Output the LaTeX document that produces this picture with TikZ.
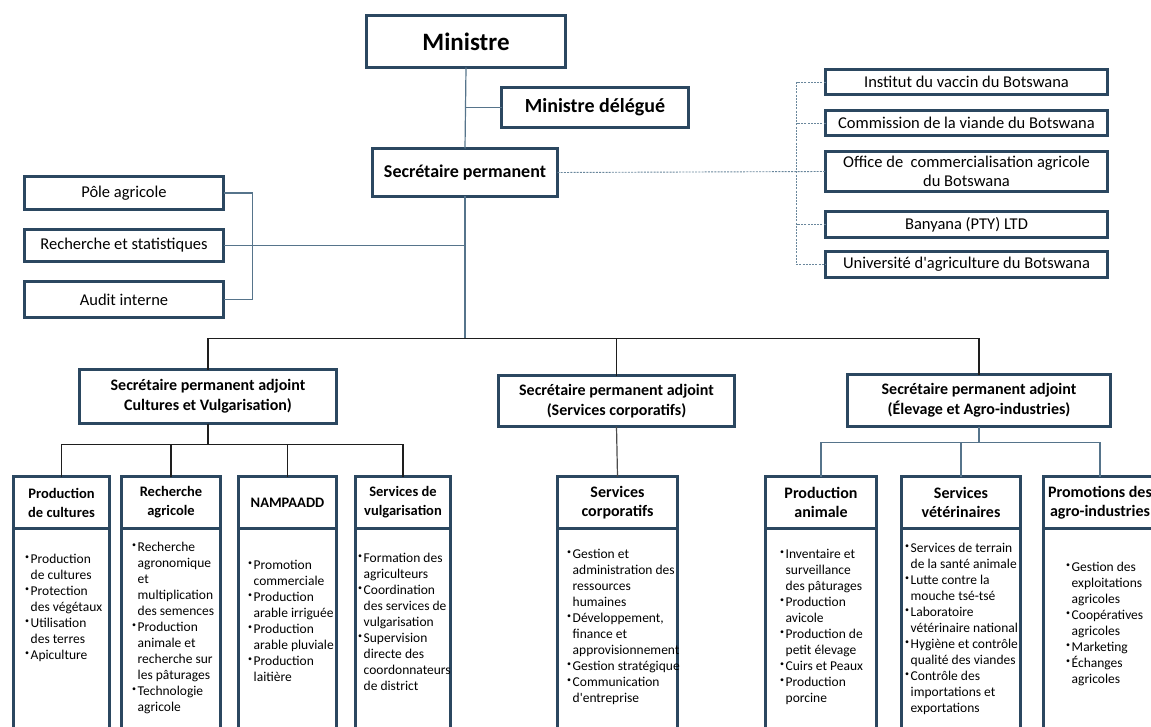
\documentclass[tikz,border=0pt]{standalone}
\usepackage{fontspec}
\setmainfont{Carlito}
\usepackage{tikz}
\usetikzlibrary{positioning}

\definecolor{boxblue}{HTML}{2B4760}
\definecolor{linkblue}{HTML}{56748B}
\definecolor{dashblue}{HTML}{6A879C}
\definecolor{busdark}{HTML}{1E1E1E}

\newcommand{\bul}{\makebox[5.5pt][l]{\raisebox{4pt}{\fontsize{8}{8}\selectfont •}}}
\newcommand{\ind}{\hspace*{5.5pt}}

\begin{document}
\begin{tikzpicture}[x=1pt, y=-1pt,
  box/.style={draw=boxblue, line width=3.2pt, fill=white, inner sep=0pt, outer sep=0pt, align=center},
  sidebox/.style={box, minimum width=199pt, font=\fontsize{16.5}{19}\selectfont},
  parabox/.style={box, minimum width=282pt, font=\fontsize{16.5}{19}\selectfont},
  adjbox/.style={box, font=\bfseries\fontsize{16}{20}\selectfont},
  headbox/.style={box, minimum height=52pt, font=\bfseries\fontsize{16}{19}\selectfont},
  bodybox/.style={box, minimum height=240pt},
  bullets/.style={anchor=north west, align=left, inner sep=0pt, font=\fontsize{13.5}{16}\selectfont},
  link/.style={draw=linkblue, line width=1.2pt},
  bus/.style={draw=busdark, line width=1.3pt},
  dashlink/.style={draw=dashblue, line width=0.9pt, dash pattern=on 2pt off 1.2pt}]
\useasboundingbox (0,0) rectangle (1151,727);
\clip (0,0) rectangle (1151,727);

% top of the chart
\node[box, minimum width=199pt, minimum height=52pt, font=\bfseries\fontsize{25}{28}\selectfont] (ministre) at (466,41.5) {Ministre};
\node[box, minimum width=187pt, minimum height=40pt, font=\bfseries\fontsize{20}{24}\selectfont] (ministredelegue) at (595,107.5) {Ministre délégué};
\node[box, minimum width=185pt, minimum height=48pt, font=\bfseries\fontsize{18}{22}\selectfont] (secretaire) at (465,172.5) {Secrétaire permanent};

% units on the left
\node[sidebox, minimum height=33pt] (pole) at (124,193) {Pôle agricole};
\node[sidebox, minimum height=32pt] (rechstat) at (124,245.5) {Recherche et statistiques};
\node[sidebox, minimum height=36pt] (audit) at (124,299.5) {Audit interne};

% parastatals on the right
\node[parabox, minimum height=25pt] (vaccin) at (966.5,82) {Institut du vaccin du Botswana};
\node[parabox, minimum height=25pt] (viande) at (966.5,123) {Commission de la viande du Botswana};
\node[parabox, minimum height=40pt] (office) at (966.5,171.5) {Office de\ \ commercialisation agricole\\du Botswana};
\node[parabox, minimum height=26pt] (banyana) at (966.5,224.5) {Banyana (PTY) LTD};
\node[parabox, minimum height=26pt] (universite) at (966.5,264.5) {Université d\textquotesingle agriculture du Botswana};

% deputy secretaries
\node[adjbox, minimum width=257pt, minimum height=54pt] (adjcultures) at (208,396.5) {Secrétaire permanent adjoint\\Cultures et Vulgarisation)};
\node[adjbox, minimum width=236pt, minimum height=51pt] (adjservices) at (616.5,401) {Secrétaire permanent adjoint\\(Services corporatifs)};
\node[adjbox, minimum width=263pt, minimum height=52pt] (adjelevage) at (979,400.5) {Secrétaire permanent adjoint\\(Élevage et Agro-industries)};

% departments
\node[headbox, minimum width=96pt, font=\bfseries\fontsize{14.5}{19}\selectfont] (prodcult) at (61.5,502.5) {Production\\de cultures};
\node[headbox, minimum width=99pt, font=\bfseries\fontsize{14.5}{19}\selectfont] (rechagri) at (171,502.5) {Recherche\\agricole};
\node[headbox, minimum width=98pt, font=\bfseries\fontsize{14.5}{19}\selectfont] (nampaadd) at (287.5,502.5) {NAMPAADD};
\node[headbox, minimum width=95pt, font=\bfseries\fontsize{14.5}{19}\selectfont] (vulgarisation) at (403,502.5) {Services de\\vulgarisation};
\node[headbox, minimum width=120pt] (servcorp) at (617.5,502.5) {Services\\corporatifs};
\node[headbox, minimum width=111pt] (prodanim) at (821,502.5) {Production\\animale};
\node[headbox, minimum width=119pt] (veterinaire) at (961,502.5) {Services\\vétérinaires};
\node[headbox, minimum width=113pt] (agroind) at (1100,502.5) {Promotions des\\agro-industries};

\foreach \n/\w in {prodcult/96,rechagri/99,nampaadd/98,vulgarisation/95,servcorp/120,prodanim/111,veterinaire/119,agroind/113}
  \node[bodybox, minimum width=\w, below=0pt of \n] (\n body) {};

% bullet lists
\node[bullets] (prodcultlist) at (25,554) {\bul Production\\\ind de cultures\\\bul Protection\\\ind des végétaux\\\bul Utilisation\\\ind des terres\\\bul Apiculture};
\node[bullets] (rechagrilist) at (132,542) {\bul Recherche\\\ind agronomique\\\ind et\\\ind multiplication\\\ind des semences\\\bul Production\\\ind animale et\\\ind recherche sur\\\ind les pâturages\\\bul Technologie\\\ind agricole};
\node[bullets] (nampaaddlist) at (248,560) {\bul Promotion\\\ind commerciale\\\bul Production\\\ind arable irriguée\\\bul Production\\\ind arable pluviale\\\bul Production\\\ind laitière};
\node[bullets] (vulgarisationlist) at (358,553) {\bul Formation des\\\ind agriculteurs\\\bul Coordination\\\ind des services de\\\ind vulgarisation\\\bul Supervision\\\ind directe des\\\ind coordonnateurs\\\ind de district};
\node[bullets] (servcorplist) at (567,549) {\bul Gestion et\\\ind administration des\\\ind ressources\\\ind humaines\\\bul Développement,\\\ind finance et\\\ind approvisionnement\\\bul Gestion stratégique\\\bul Communication\\\ind d\textquotesingle entreprise};
\node[bullets] (prodanimlist) at (780,549) {\bul Inventaire et\\\ind surveillance\\\ind des pâturages\\\bul Production\\\ind avicole\\\bul Production de\\\ind petit élevage\\\bul Cuirs et Peaux\\\bul Production\\\ind porcine};
\node[bullets] (veterinairelist) at (905,543) {\bul Services de terrain\\\ind de la santé animale\\\bul Lutte contre la\\\ind mouche tsé-tsé\\\bul Laboratoire\\\ind vétérinaire national\\\bul Hygiène et contrôle\\\ind qualité des viandes\\\bul Contrôle des\\\ind importations et\\\ind exportations};
\node[bullets] (agroindlist) at (1066,562) {\bul Gestion des\\\ind exploitations\\\ind agricoles\\\bul Coopératives\\\ind agricoles\\\bul Marketing\\\bul Échanges\\\ind agricoles};

% connectors
\draw[link] (ministre.south) -- (secretaire.north);
\draw[link] (ministre.south |- ministredelegue.west) -- (ministredelegue.west);
\draw[link] (secretaire.south) -- ++(0,142) coordinate (bus);
\draw[link] (pole.east) -- ++(29,0) |- (audit.east);
\draw[link] (rechstat.east) -- (rechstat.east -| secretaire.south);

\draw[dashlink] (secretaire.east) -- (office.west);
\draw[dashlink] (vaccin.west) -- ++(-29,0) |- (universite.west);
\draw[dashlink] (viande.west) -- ++(-29,0);
\draw[dashlink] (banyana.west) -- ++(-29,0);

\draw[bus] (bus) -| (adjcultures.north);
\draw[bus] (bus) -| (adjelevage.north);
\draw[bus] (adjservices.north) -- (adjservices.north |- bus);

\foreach \n in {prodcult,rechagri,nampaadd,vulgarisation}
  \draw[bus] (adjcultures.south) -- ++(0,21) -| (\n.north);
\draw[draw=black!70, line width=1.2pt] (adjservices.south) -- (servcorp.north);
\foreach \n in {prodanim,veterinaire,agroind}
  \draw[link] (adjelevage.south) -- ++(0,16) -| (\n.north);
\end{tikzpicture}
\end{document}
